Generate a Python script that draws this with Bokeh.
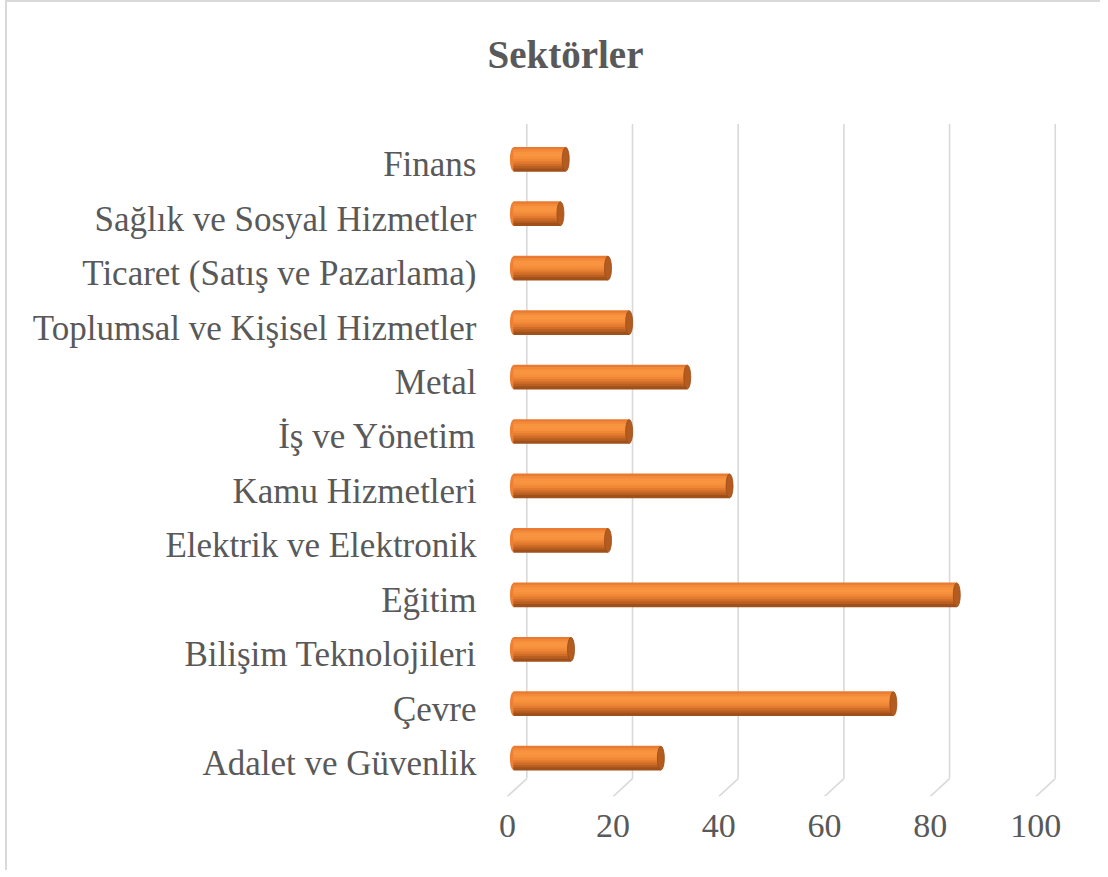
from bokeh.plotting import figure
from bokeh.models import Range1d, FixedTicker, ColumnDataSource
from bokeh.transform import dodge
from bokeh.embed import file_html
from bokeh.resources import INLINE

# ---- data (bottom to top) ----
categories = [
    "Adalet ve Güvenlik",
    "Çevre",
    "Bilişim Teknolojileri",
    "Eğitim",
    "Elektrik ve Elektronik",
    "Kamu Hizmetleri",
    "İş ve Yönetim",
    "Metal",
    "Toplumsal ve Kişisel Hizmetler",
    "Ticaret (Satış ve Pazarlama)",
    "Sağlık ve Sosyal Hizmetler",
    "Finans",
]
values = [28, 72, 11, 84, 18, 41, 22, 33, 22, 18, 9, 10]
x_ticks = [0, 20, 40, 60, 80, 100]
title_text = "Sektörler"

# ---- styling / layout constants ----
FONT = "Liberation Serif"
TXT = "#595959"
GRID = "#d9d9d9"
PX_X = 5.285          # px per value unit
PX_Y = 54.68          # px per category
Y_FRONT = -0.6035     # floor front edge (frame bottom)
Y_BACK = Y_FRONT + 18 / PX_Y
Y_TOP = 11 + 41 / PX_Y
GDX = 19.4 / PX_X     # depth offset of back wall
BAR_X0 = 6 / PX_X
BAR_DY = 5.5 / PX_Y
BAR_H = 24 / PX_Y
CAP_W = 7 / PX_X

ypos = list(range(len(categories)))
src = ColumnDataSource(dict(y=ypos, v=values, name=categories))
tsrc = ColumnDataSource(dict(t=x_ticks))

p = figure(
    width=1095, height=870,
    x_range=Range1d(-3.2, 107.5),
    y_range=Range1d(Y_FRONT, 12.033),
    output_backend="svg", toolbar_location=None,
    min_border_left=483, min_border_right=27,
    min_border_top=103, min_border_bottom=76,
    title=title_text,
)
p.styles = {"border-top": "2px solid #d9d9d9", "border-left": "2px solid #d9d9d9",
            "margin-left": "5px"}
p.outline_line_color = None
p.background_fill_color = "white"
p.border_fill_color = "white"
p.xgrid.visible = False
p.ygrid.visible = False

p.title.align = "left"
p.title.vertical_align = "top"
p.title.offset = -3
p.title.standoff = 61
p.title.text_font = FONT
p.title.text_font_size = "39px"
p.title.text_font_style = "bold"
p.title.text_color = TXT

# back-wall gridlines and floor diagonals
p.segment(x0=dodge("t", GDX), y0=Y_BACK, x1=dodge("t", GDX), y1=Y_TOP,
          source=tsrc, line_color=GRID, line_width=1.6)
p.segment(x0=dodge("t", GDX), y0=Y_BACK, x1="t", y1=Y_FRONT,
          source=tsrc, line_color=GRID, line_width=1.6)

# cylinder bars: left rounded end, shaded body strips, right cap
p.ellipse(x=BAR_X0, y=dodge("y", BAR_DY), width=CAP_W, height=BAR_H,
          source=src, fill_color="#ee8035", line_color=None)
strip_colors = ["#e87b31", "#f38a3a", "#f8933f", "#f99540", "#f6903d",
                "#ef8737", "#e27b30", "#cf6d28", "#b95f21", "#a0501b"]
n = len(strip_colors)
hs = BAR_H / n
for k, c in enumerate(strip_colors):
    off = BAR_DY + BAR_H / 2 - hs * (k + 0.5)
    p.hbar(y=dodge("y", off), left=BAR_X0, right=dodge("v", BAR_X0 - 0.1),
           height=hs * 1.35, source=src, fill_color=c, line_color=None)
p.ellipse(x=dodge("v", BAR_X0 - 0.1), y=dodge("y", BAR_DY), width=CAP_W, height=BAR_H,
          source=src, fill_color="#b45c1f", line_color="#9a4c17", line_width=0.8)

# axes
p.xaxis.ticker = FixedTicker(ticks=x_ticks)
p.xaxis.axis_line_color = None
p.xaxis.major_tick_line_color = None
p.xaxis.minor_tick_line_color = None
p.xaxis.major_tick_out = 0
p.xaxis.minor_tick_out = 0
p.xaxis.major_label_standoff = 18
p.xaxis.major_label_text_font = FONT
p.xaxis.major_label_text_font_size = "34px"
p.xaxis.major_label_text_color = TXT

p.yaxis.ticker = FixedTicker(ticks=ypos)
p.yaxis.major_label_overrides = {i: c for i, c in zip(ypos, categories)}
p.yaxis.axis_line_color = None
p.yaxis.major_tick_line_color = None
p.yaxis.minor_tick_line_color = None
p.yaxis.major_tick_out = 0
p.yaxis.minor_tick_out = 0
p.yaxis.major_label_standoff = 14
p.yaxis.major_label_text_font = FONT
p.yaxis.major_label_text_font_size = "35px"
p.yaxis.major_label_text_color = TXT

open("out.html", "w").write(file_html(p, INLINE))
